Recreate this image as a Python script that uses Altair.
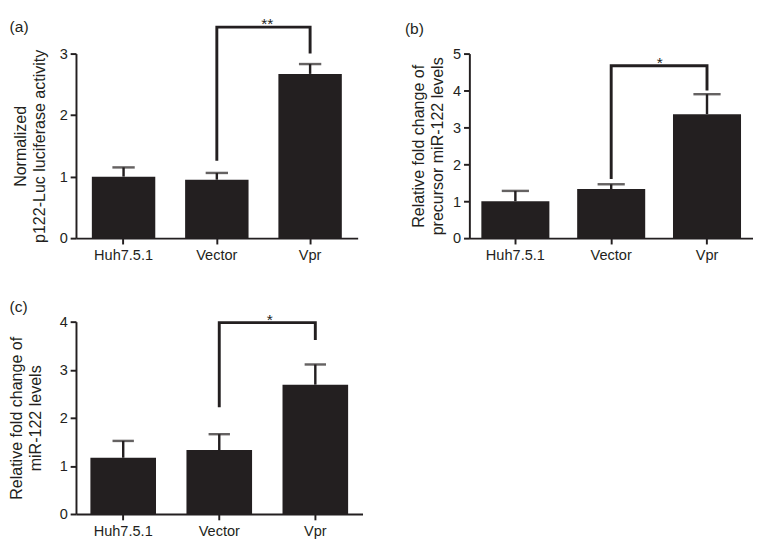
import altair as alt
import pandas as pd

DARK = "#231f20"
FONT = "Liberation Sans"

categories = ["Huh7.5.1", "Vector", "Vpr"]

# panel (a)
a_means = [1.00, 0.95, 2.67]
a_err_tops = [1.15, 1.06, 2.83]
a_bracket = [1.26, 3.43, 3.00]   # left-leg end, bracket level, right-leg end
a_star = "**"
a_ticks = [0, 1, 2, 3]
a_title = ["Normalized", "p122-Luc luciferase activity"]

# panel (b)
b_means = [1.00, 1.33, 3.36]
b_err_tops = [1.28, 1.46, 3.90]
b_bracket = [1.60, 4.67, 4.00]
b_star = "*"
b_ticks = [0, 1, 2, 3, 4, 5]
b_title = ["Relative fold change of", "precursor miR-122 levels"]

# panel (c)
c_means = [1.17, 1.33, 2.69]
c_err_tops = [1.52, 1.66, 3.11]
c_bracket = [2.22, 3.98, 3.62]
c_star = "*"
c_ticks = [0, 1, 2, 3, 4]
c_title = ["Relative fold change of", "miR-122 levels"]


def panel(label, means, tops, bracket, star, ticks, ytitle, width, height,
          pad_in, pad_out, cap, title_pad, label_dx, label_dy, star_dx):
    bars = pd.DataFrame({"cat": categories, "mean": means, "top": tops})
    br = pd.DataFrame({
        "cat": ["Vector", "Vector", "Vpr", "Vpr"],
        "val": [bracket[0], bracket[1], bracket[1], bracket[2]],
        "i": [0, 1, 2, 3],
    })
    st = pd.DataFrame({"cat": ["Vector"], "val": [bracket[1]], "txt": [star]})

    x = alt.X(
        "cat:N", sort=categories,
        scale=alt.Scale(paddingInner=pad_in, paddingOuter=pad_out),
        axis=alt.Axis(title=None, labelAngle=0, labelPadding=4),
    )
    ysc = alt.Scale(domain=[0, ticks[-1]], nice=False)
    yax = alt.Axis(values=ticks, format="d", title=ytitle, titlePadding=title_pad,
                   titleLineHeight=20, labelPadding=3)

    bar = alt.Chart(bars).mark_bar(color=DARK).encode(
        x=x, y=alt.Y("mean:Q", scale=ysc, axis=yax))
    err = alt.Chart(bars).mark_rule(color=DARK, strokeWidth=2.5).encode(
        x=x, y=alt.Y("mean:Q", scale=ysc, axis=yax), y2="top:Q")
    caps = alt.Chart(bars).mark_tick(color=DARK, thickness=2.5, size=cap).encode(
        x=x, y=alt.Y("top:Q", scale=ysc, axis=yax))
    line = alt.Chart(br).mark_line(color=DARK, strokeWidth=3, strokeJoin="miter",
                                   strokeCap="butt").encode(
        x=x, y=alt.Y("val:Q", scale=ysc, axis=yax), order="i:Q")
    txt = alt.Chart(st).mark_text(color=DARK, font=FONT, fontSize=16,
                                  baseline="alphabetic", dx=star_dx, dy=2).encode(
        x=x, y=alt.Y("val:Q", scale=ysc, axis=yax), text="txt:N")

    return alt.layer(bar, err, caps, line, txt).properties(
        width=width, height=height,
        title=alt.TitleParams(label, anchor="start", frame="bounds", dx=label_dx,
                              dy=label_dy, offset=0, font=FONT, fontSize=16,
                              fontWeight="normal", color=DARK),
    )


pa = panel("(a)", a_means, a_err_tops, a_bracket, a_star, a_ticks, a_title,
           290, 190, 0.32, 0.17, 23, 12, -3, 19, 52)
pb = panel("(b)", b_means, b_err_tops, b_bracket, b_star, b_ticks, b_title,
           292, 190, 0.29, 0.125, 28, 7, -6, -10, 50)
pc = panel("(c)", c_means, c_err_tops, c_bracket, c_star, c_ticks, c_title,
           295, 198, 0.317, 0.15, 22, 16, 1, 3, 52)

chart = alt.concat(
    pa, pb, pc, columns=2, bounds="flush",
    spacing=alt.RowColnumber(row=86, column=110),
).properties(
    padding=0, background="white"
).configure_view(stroke=None).configure_axis(
    domainColor=DARK, domainWidth=2, tickColor=DARK, tickWidth=2, tickSize=6,
    labelColor=DARK, labelFont=FONT, labelFontSize=15,
    titleColor=DARK, titleFont=FONT, titleFontSize=16.5, titleFontWeight="normal",
    grid=False,
)

chart.save("out.html", embed_options={"renderer": "svg", "actions": False})
